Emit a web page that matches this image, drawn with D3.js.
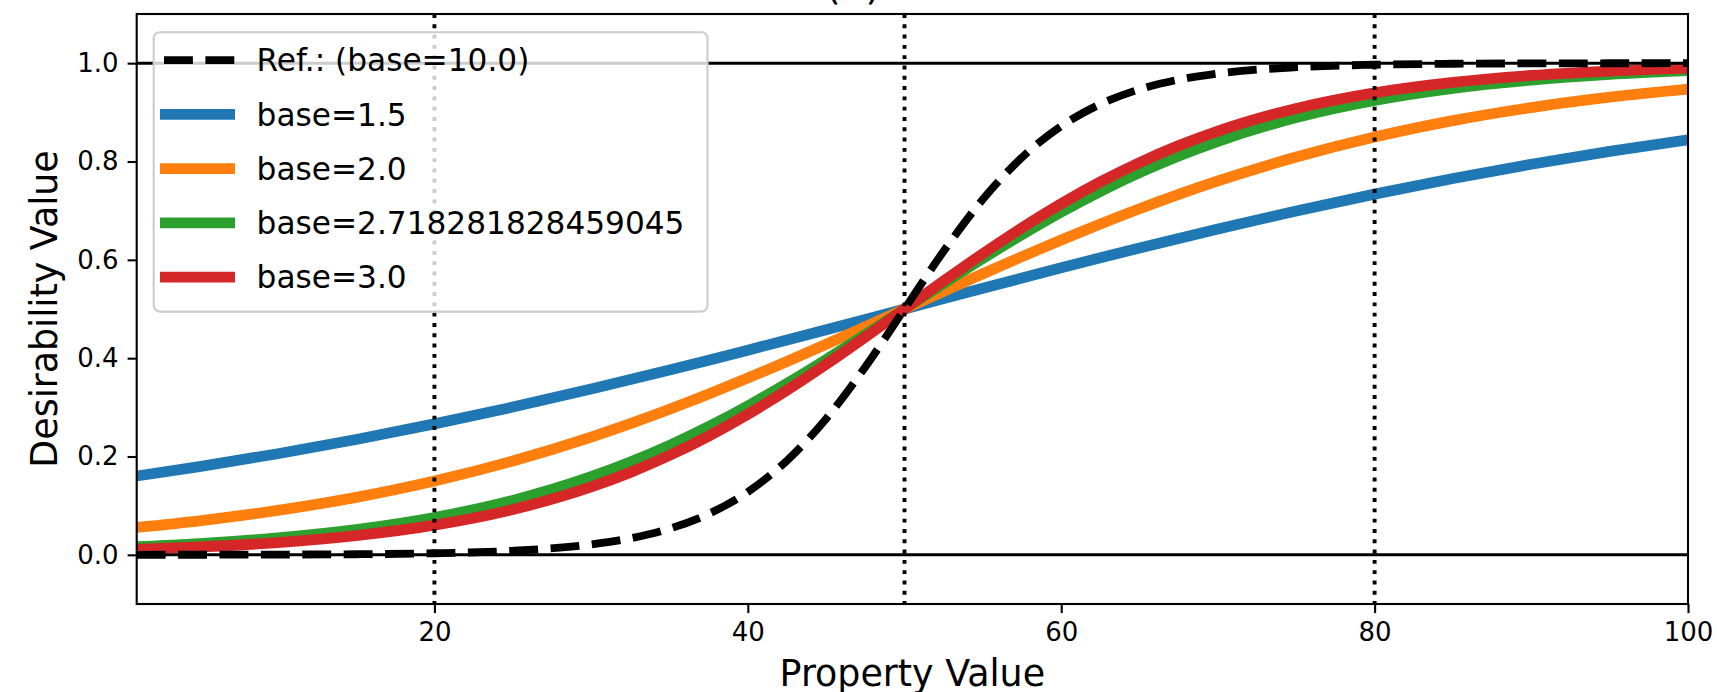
<!DOCTYPE html>
<html>
<head>
<meta charset="utf-8">
<script src="https://cdn.jsdelivr.net/npm/d3@7"></script>
<style>
  html, body { margin: 0; padding: 0; background: #ffffff; }
  svg { display: block; font-family: "DejaVu Sans", sans-serif; }
</style>
</head>
<body>
<svg id="chart" width="1717" height="692"></svg>
<script>
// ---- data ----
const propertyValues = [1, 5, 10, 15, 20, 25, 30, 32.5, 35, 37.5, 40, 42.5, 45, 47.5, 50, 52.5, 55, 57.5, 60, 62.5, 65, 67.5, 70, 75, 80, 85, 90, 95, 100];
const refBase10 = [0.0001, 0.0002, 0.0005, 0.0012, 0.0032, 0.0082, 0.0211, 0.0336, 0.0532, 0.0833, 0.1280, 0.1917, 0.2770, 0.3823, 0.5, 0.6177, 0.7230, 0.8083, 0.8720, 0.9167, 0.9468, 0.9664, 0.9789, 0.9918, 0.9968, 0.9988, 0.9995, 0.9998, 0.9999];
const base1_5 = [0.1603, 0.1794, 0.2056, 0.2346, 0.2663, 0.3005, 0.3372, 0.3564, 0.3759, 0.3959, 0.4163, 0.4370, 0.4579, 0.4789, 0.5, 0.5211, 0.5421, 0.5630, 0.5837, 0.6041, 0.6241, 0.6436, 0.6628, 0.6995, 0.7337, 0.7654, 0.7944, 0.8206, 0.8442];
const base2_0 = [0.0557, 0.0692, 0.0903, 0.1169, 0.1502, 0.1909, 0.2395, 0.2668, 0.2960, 0.3270, 0.3595, 0.3934, 0.4283, 0.4640, 0.5, 0.5360, 0.5717, 0.6066, 0.6405, 0.6730, 0.7040, 0.7332, 0.7605, 0.8091, 0.8498, 0.8831, 0.9097, 0.9308, 0.9472];
const baseE = [0.0166, 0.0230, 0.0345, 0.0513, 0.0759, 0.1107, 0.1589, 0.1887, 0.2227, 0.2608, 0.3029, 0.3487, 0.3973, 0.4481, 0.5, 0.5519, 0.6027, 0.6513, 0.6971, 0.7392, 0.7773, 0.8113, 0.8411, 0.8893, 0.9241, 0.9487, 0.9655, 0.9770, 0.9847];
const base3_0 = [0.0111, 0.0160, 0.0250, 0.0390, 0.0603, 0.0921, 0.1381, 0.1677, 0.2021, 0.2415, 0.2859, 0.3348, 0.3875, 0.4430, 0.5, 0.5570, 0.6125, 0.6652, 0.7141, 0.7585, 0.7979, 0.8323, 0.8619, 0.9079, 0.9397, 0.9610, 0.9750, 0.9840, 0.9898];

const seriesLabels = ["Ref.: (base=10.0)", "base=1.5", "base=2.0", "base=2.718281828459045", "base=3.0"];
const xTicks = [20, 40, 60, 80, 100];
const yTicks = [0.0, 0.2, 0.4, 0.6, 0.8, 1.0];
const verticalMarks = [20, 50, 80];
const horizontalMarks = [0, 1];
const xDomain = [1, 100];
const yDomain = [-0.1, 1.1];
const titleText = "(a)";
const xLabel = "Property Value";
const yLabel = "Desirability Value";

// ---- layout ----
const L = 136.7, R = 1688, T = 14, B = 604;
const svg = d3.select("#chart");
const x = d3.scaleLinear().domain(xDomain).range([L, R]);
const y = d3.scaleLinear().domain(yDomain).range([B, T]);

svg.append("defs").append("clipPath").attr("id", "plotclip")
  .append("rect").attr("x", L).attr("y", T).attr("width", R - L).attr("height", B - T);

const plot = svg.append("g").attr("clip-path", "url(#plotclip)");

const colors = ["#000000", "#1f77b4", "#ff7f0e", "#2ca02c", "#d62728"];
const seriesValues = [refBase10, base1_5, base2_0, baseE, base3_0];
const series = seriesValues.map((vals, i) => ({
  label: seriesLabels[i],
  color: colors[i],
  dashed: i === 0,
  points: propertyValues.map((px, j) => ({ x: px, y: vals[j] }))
}));

const line = d3.line().x(d => x(d.x)).y(d => y(d.y)).curve(d3.curveMonotoneX);

// colored curves first
series.slice(1).forEach(s => {
  plot.append("path").datum(s.points)
    .attr("d", line).attr("fill", "none")
    .attr("stroke", s.color).attr("stroke-width", 10.8)
    .attr("stroke-linejoin", "round");
});
// reference dashed
plot.append("path").datum(series[0].points)
  .attr("d", line).attr("fill", "none")
  .attr("stroke", "#000").attr("stroke-width", 7.8)
  .attr("stroke-dasharray", "28.9,12.5");

// horizontal lines
horizontalMarks.forEach(v => {
  plot.append("line").attr("x1", L).attr("x2", R)
    .attr("y1", y(v)).attr("y2", y(v))
    .attr("stroke", "#000").attr("stroke-width", 3);
});
// vertical dotted lines
verticalMarks.forEach(v => {
  plot.append("line").attr("x1", x(v)).attr("x2", x(v))
    .attr("y1", T).attr("y2", B)
    .attr("stroke", "#000").attr("stroke-width", 3.9)
    .attr("stroke-dasharray", "3.9,6.4");
});

// frame
svg.append("rect").attr("x", L).attr("y", T).attr("width", R - L).attr("height", B - T)
  .attr("fill", "none").attr("stroke", "#000").attr("stroke-width", 2.1);

// axes
const xAxis = d3.axisBottom(x).tickValues(xTicks).tickFormat(d3.format("d"))
  .tickSize(9.1).tickPadding(9.1);
const gx = svg.append("g").attr("transform", `translate(0,${B})`).call(xAxis);
const yAxis = d3.axisLeft(y).tickValues(yTicks).tickFormat(d3.format(".1f"))
  .tickSize(9.1).tickPadding(9.1);
const gy = svg.append("g").attr("transform", `translate(${L},0)`).call(yAxis);
[gx, gy].forEach(g => {
  g.select(".domain").remove();
  g.selectAll(".tick line").attr("stroke", "#000").attr("stroke-width", 2.1);
  g.selectAll(".tick text").attr("fill", "#000")
    .style("font-family", "DejaVu Sans").style("font-size", "26px");
});

// axis labels
svg.append("text").attr("x", (L + R) / 2).attr("y", 686)
  .attr("text-anchor", "middle").style("font-size", "36.4px").attr("fill", "#000")
  .text(xLabel);
svg.append("text").attr("transform", `translate(57,${(T + B) / 2}) rotate(-90)`)
  .attr("text-anchor", "middle").style("font-size", "36.4px").attr("fill", "#000")
  .text(yLabel);

// title (mostly cropped above the canvas)
svg.append("text").attr("x", 853).attr("y", -1)
  .attr("text-anchor", "middle").style("font-size", "40px").attr("fill", "#000")
  .text(titleText);

// legend
const lg = svg.append("g");
lg.append("rect").attr("x", 153.7).attr("y", 32.2).attr("width", 707.5 - 153.7).attr("height", 311.6 - 32.2)
  .attr("rx", 6).attr("fill", "#ffffff").attr("fill-opacity", 0.8)
  .attr("stroke", "#cccccc").attr("stroke-width", 2.1);
const rowY0 = 60.2, rowStep = 54.25;
series.forEach((s, i) => {
  const cy = rowY0 + i * rowStep;
  const h = lg.append("line").attr("x1", 160).attr("x2", 235)
    .attr("y1", cy).attr("y2", cy).attr("stroke", s.color);
  if (s.dashed) {
    h.attr("stroke-width", 7.8).attr("stroke-dasharray", "28.9,12.5").attr("stroke-dashoffset", -4);
  } else {
    h.attr("stroke-width", 10.8);
  }
  lg.append("text").attr("x", 256.6).attr("y", cy).attr("dy", "0.36em")
    .style("font-size", "31.2px").attr("fill", "#000").text(s.label);
});
</script>
</body>
</html>
